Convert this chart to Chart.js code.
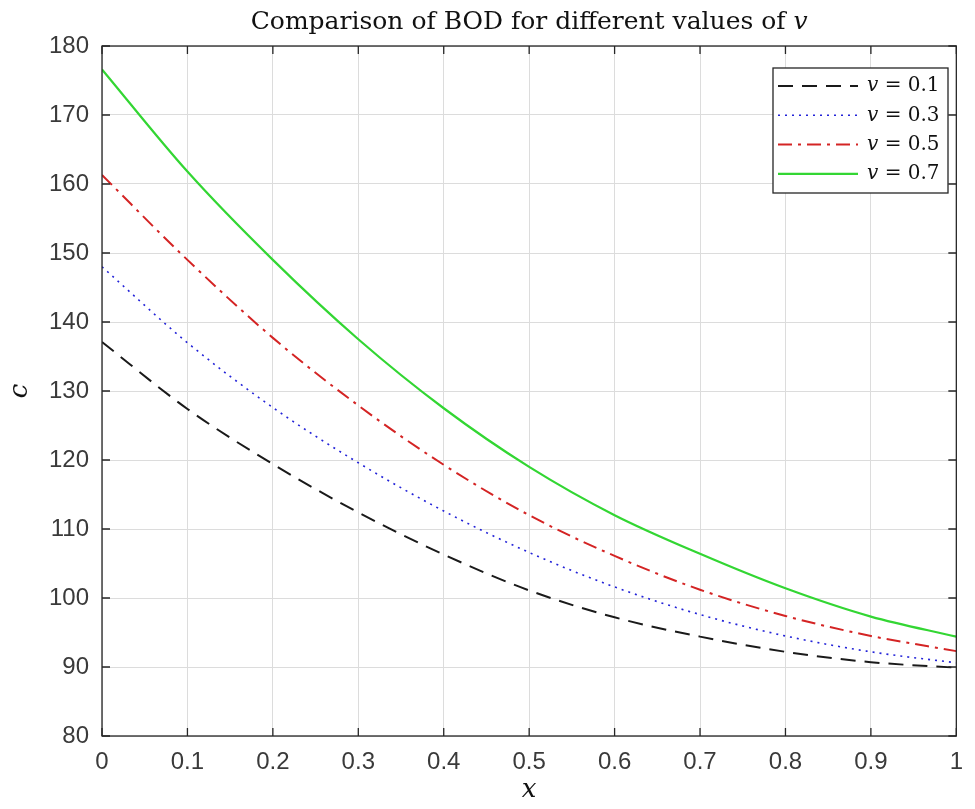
<!DOCTYPE html>
<html><head><meta charset="utf-8">
<script src="https://cdn.jsdelivr.net/npm/chart.js@4/dist/chart.umd.min.js"></script>
<style>html,body{margin:0;padding:0;background:#fff;}#wrap{width:975px;height:809px;}</style>
</head><body><div id="wrap"><canvas id="c" width="975" height="809"></canvas></div>
<script>
// ---- data ----
const xValues = [0, 0.1, 0.2, 0.3, 0.4, 0.5, 0.6, 0.7, 0.8, 0.9, 1];
const xTickLabels = ['0', '0.1', '0.2', '0.3', '0.4', '0.5', '0.6', '0.7', '0.8', '0.9', '1'];
const yTickLabels = ['80', '90', '100', '110', '120', '130', '140', '150', '160', '170', '180'];
const vValues = ['0.1', '0.3', '0.5', '0.7'];
const bodV01 = [137.1, 127.4, 119.4, 112.4, 106.3, 101.1, 97.2, 94.4, 92.2, 90.7, 89.9];
const bodV03 = [148.0, 137.0, 127.6, 119.6, 112.6, 106.6, 101.6, 97.6, 94.5, 92.2, 90.6];
const bodV05 = [161.3, 149.0, 137.7, 127.9, 119.3, 112.0, 106.1, 101.2, 97.4, 94.5, 92.3];
const bodV07 = [176.6, 161.8, 149.0, 137.5, 127.5, 119.0, 112.0, 106.4, 101.4, 97.3, 94.4];
const titleText = 'Comparison of BOD for different values of ';
const titleVar = 'v';
const xAxisLabel = 'x';
const yAxisLabel = 'c';

const seriesValues = [bodV01, bodV03, bodV05, bodV07];
const styles = [
  {color: '#1a1a1a', dash: [15, 9], width: 2},
  {color: '#2323d8', dash: [2, 5], width: 1.6},
  {color: '#d42424', dash: [14, 6, 3, 6], width: 2},
  {color: '#33d633', dash: [], width: 2.2}
];
const datasets = seriesValues.map((vals, i) => ({
  label: 'v = ' + vValues[i],
  data: vals.map((y, j) => ({x: xValues[j], y: y})),
  borderColor: styles[i].color,
  borderDash: styles[i].dash,
  borderWidth: styles[i].width,
  pointRadius: 0,
  fill: false,
  cubicInterpolationMode: 'monotone'
}));

const AXIS = '#262626';
const TICKFONT = {family: 'Liberation Sans', size: 24};

const decor = {
  id: 'decor',
  afterDatasetsDraw(chart) {
    const ctx = chart.ctx, a = chart.chartArea;
    const xs = chart.scales.x, ys = chart.scales.y;
    ctx.save();
    ctx.setLineDash([]);
    ctx.strokeStyle = AXIS; ctx.lineWidth = 1.3;
    ctx.strokeRect(a.left, a.top, a.right - a.left, a.bottom - a.top);
    const tl = 8;
    ctx.beginPath();
    xValues.forEach(v => {
      const p = xs.getPixelForValue(v);
      ctx.moveTo(p, a.bottom); ctx.lineTo(p, a.bottom - tl);
      ctx.moveTo(p, a.top); ctx.lineTo(p, a.top + tl);
    });
    yTickLabels.forEach(t => {
      const p = ys.getPixelForValue(Number(t));
      ctx.moveTo(a.left, p); ctx.lineTo(a.left + tl, p);
      ctx.moveTo(a.right, p); ctx.lineTo(a.right - tl, p);
    });
    ctx.stroke();

    // title
    ctx.fillStyle = '#111';
    ctx.textBaseline = 'middle';
    const cx = (a.left + a.right) / 2;
    ctx.font = '25px "DejaVu Serif"';
    const w1 = ctx.measureText(titleText).width;
    ctx.font = 'italic 25px "DejaVu Serif"';
    const w2 = ctx.measureText(titleVar).width;
    let sx = cx - (w1 + w2) / 2;
    ctx.textAlign = 'left';
    ctx.font = '25px "DejaVu Serif"';
    ctx.fillText(titleText, sx, 22);
    ctx.font = 'italic 25px "DejaVu Serif"';
    ctx.fillText(titleVar, sx + w1, 22);

    // axis labels
    ctx.font = 'italic 26px "DejaVu Serif"';
    ctx.textAlign = 'center';
    ctx.fillText(xAxisLabel, cx, 790);
    ctx.save();
    ctx.translate(20, (a.top + a.bottom) / 2);
    ctx.rotate(-Math.PI / 2);
    ctx.fillText(yAxisLabel, 0, 0);
    ctx.restore();

    // legend
    const L = {x: 773, y: 68, w: 175, h: 125};
    ctx.fillStyle = '#fff';
    ctx.fillRect(L.x, L.y, L.w, L.h);
    ctx.strokeStyle = AXIS; ctx.lineWidth = 1.3;
    ctx.strokeRect(L.x, L.y, L.w, L.h);
    chart.data.datasets.forEach((ds, i) => {
      const yy = L.y + 18 + i * 29.3;
      ctx.beginPath();
      ctx.setLineDash(ds.borderDash);
      ctx.strokeStyle = ds.borderColor; ctx.lineWidth = ds.borderWidth;
      ctx.moveTo(L.x + 5, yy); ctx.lineTo(L.x + 85, yy);
      ctx.stroke();
      ctx.setLineDash([]);
      ctx.fillStyle = '#111';
      ctx.textAlign = 'left';
      ctx.font = 'italic 20px "DejaVu Serif"';
      const tx = L.x + 94;
      ctx.fillText('v', tx, yy);
      const vw = ctx.measureText('v').width;
      ctx.font = '20px "DejaVu Serif"';
      ctx.fillText(' = ' + vValues[i], tx + vw, yy);
    });
    ctx.restore();
  }
};

new Chart(document.getElementById('c'), {
  type: 'line',
  data: {datasets: datasets},
  options: {
    responsive: false,
    animation: false,
    devicePixelRatio: 1,
    layout: {padding: {top: 46, left: 0, right: 7, bottom: 0}},
    plugins: {legend: {display: false}, title: {display: false}, tooltip: {enabled: false}},
    scales: {
      x: {
        type: 'linear', min: 0, max: 1,
        afterFit(s) { s.height = 73; },
        ticks: {stepSize: 0.1, padding: 12, color: '#3a3a3a', font: TICKFONT, maxRotation: 0,
          callback: (v, i) => xTickLabels[i]},
        grid: {color: '#dcdcdc', lineWidth: 1, drawTicks: false},
        border: {display: false}
      },
      y: {
        type: 'linear', min: 80, max: 180,
        afterFit(s) { s.width = 102; },
        ticks: {stepSize: 10, padding: 13, color: '#3a3a3a', font: TICKFONT,
          callback: (v, i) => yTickLabels[i]},
        grid: {color: '#dcdcdc', lineWidth: 1, drawTicks: false},
        border: {display: false}
      }
    }
  },
  plugins: [decor]
});
</script></body></html>
